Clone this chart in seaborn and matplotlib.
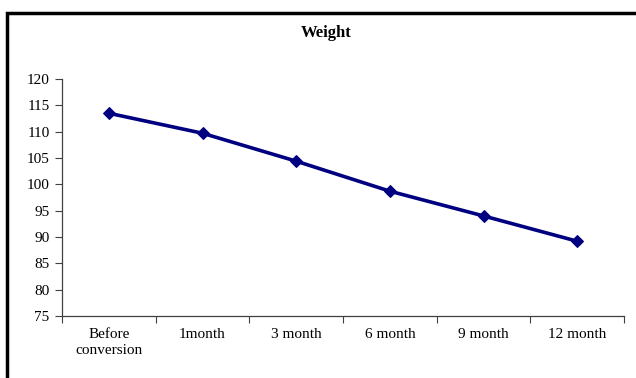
import matplotlib
matplotlib.use("Agg")
import matplotlib.pyplot as plt
import seaborn as sns
import pandas as pd
from matplotlib.patches import Rectangle
from matplotlib.ticker import FixedLocator

categories = ["Before\nconversion", "1month", "3 month", "6 month", "9 month", "12 month"]
weight = [113.5, 109.7, 104.4, 98.7, 94.0, 89.2]
y_ticks = [75, 80, 85, 90, 95, 100, 105, 110, 115, 120]

sns.set_theme(style="white")
plt.rcParams['font.family'] = ['Liberation Serif', 'DejaVu Serif']

df = pd.DataFrame({"period": categories, "weight": weight})

fig = plt.figure(figsize=(6.36, 3.78), dpi=100)
ax = fig.add_axes([62/636, 1 - 316/378, (624 - 62)/636, (316 - 79)/378])

sns.lineplot(data=df, x="period", y="weight", ax=ax, color="#000080",
             linewidth=2.6, marker="D", markersize=6.5, markeredgecolor="#000080",
             sort=False)

ax.set_xlim(-0.5, len(categories) - 0.5)
ax.set_ylim(75, 120)
ax.set_yticks(y_ticks)
ax.set_xticks(range(len(categories)))
ax.set_xticklabels(categories, linespacing=1.2)
ax.xaxis.set_minor_locator(FixedLocator([i - 0.5 for i in range(len(categories) + 1)]))
ax.tick_params(axis="x", which="major", length=0, pad=9, labelsize=11, colors="black")
ax.tick_params(axis="x", which="minor", length=5, width=0.8, color="#404040", bottom=True, direction="out")
ax.tick_params(axis="y", which="major", length=5, width=0.8, color="#404040", left=True, direction="out", labelsize=11, pad=4)
for lbl in ax.get_yticklabels():
    lbl.set_color("black")
ax.set_xlabel("")
ax.set_ylabel("")
for s in ["top", "right"]:
    ax.spines[s].set_visible(False)
for s in ["left", "bottom"]:
    ax.spines[s].set_color("#404040")
    ax.spines[s].set_linewidth(0.9)

fig.text(326/636, 1 - 33/378, "Weight", ha="center", va="center",
         fontsize=12, fontweight="bold", color="black")

fig.patches.append(Rectangle((6.5/636, -0.1), 1.2, 1 - 13/378 + 0.1,
                             transform=fig.transFigure, fill=False,
                             edgecolor="black", linewidth=2.5, zorder=10))

fig.savefig("out.png", dpi=100)
